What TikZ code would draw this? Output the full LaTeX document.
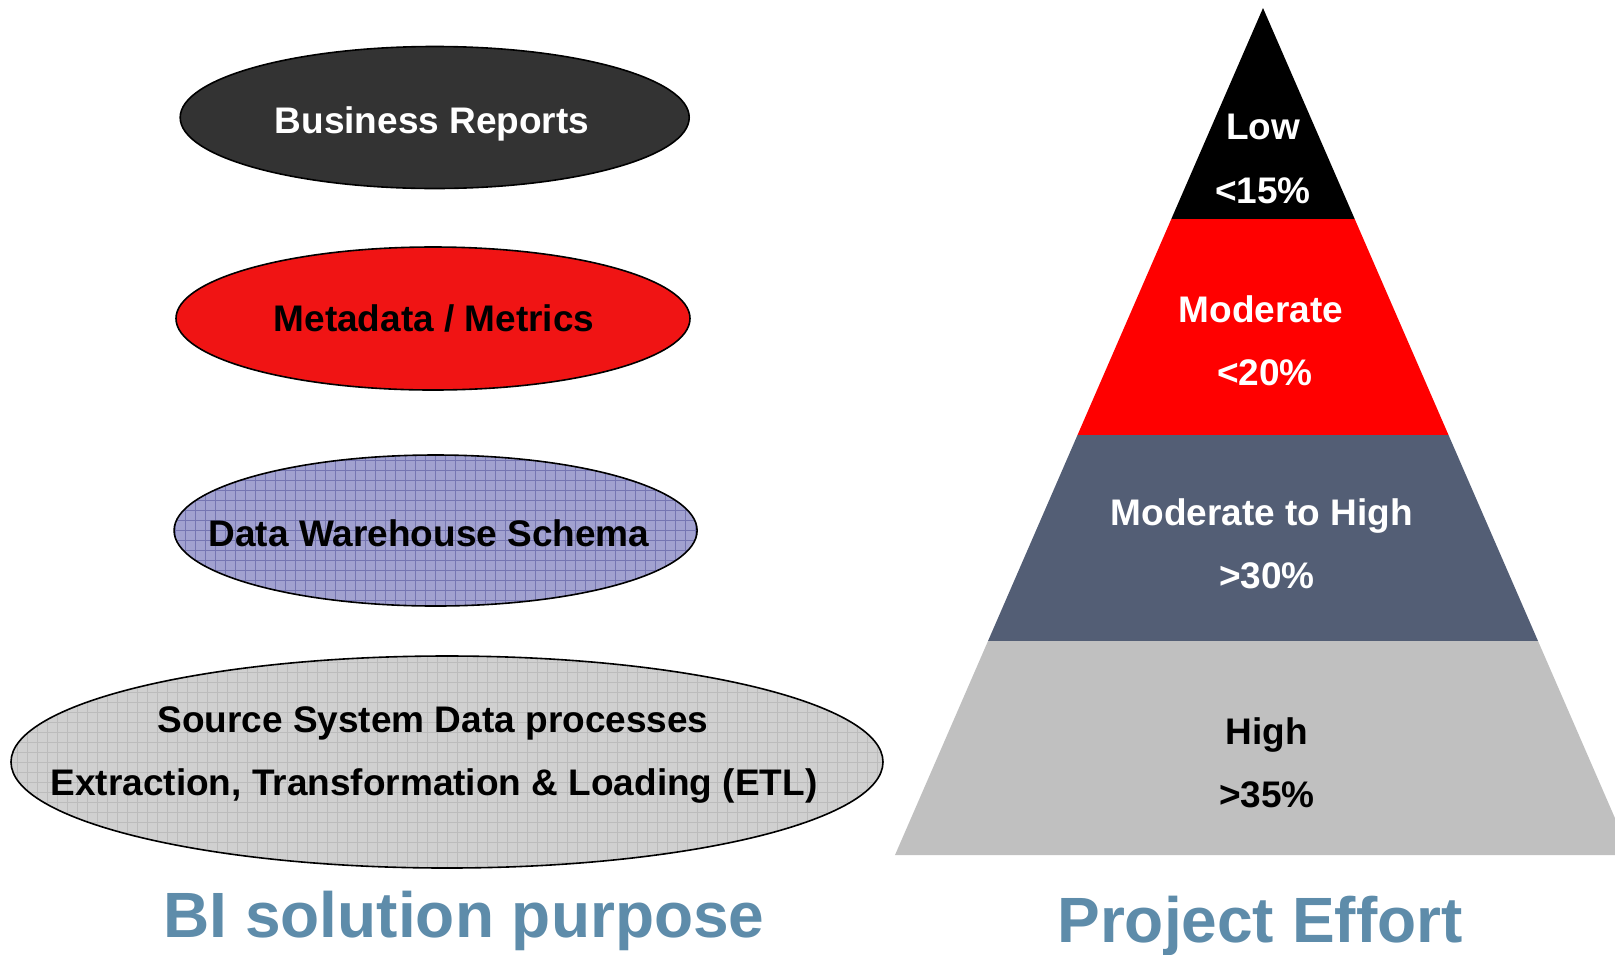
\documentclass[tikz,border=0pt]{standalone}
\usepackage{fontspec}
\setmainfont{Liberation Sans}
\usetikzlibrary{shapes.geometric}
\definecolor{darkell}{RGB}{51,51,51}
\definecolor{redell}{RGB}{240,20,20}
\definecolor{dwell}{RGB}{162,162,208}
\definecolor{dwgrid}{RGB}{118,118,178}
\definecolor{srcell}{RGB}{208,208,208}
\definecolor{srcgrid}{RGB}{188,188,188}
\definecolor{slate}{RGB}{83,94,117}
\definecolor{lightband}{RGB}{192,192,192}
\definecolor{titleblue}{RGB}{94,140,170}
\begin{document}
\begin{tikzpicture}[x=0.5pt,y=-0.5pt,
  ell/.style={ellipse, draw=black, line width=0.8pt, inner sep=0pt},
  lbl/.style={font=\fontsize{18.5}{22}\bfseries\selectfont, inner sep=0pt, anchor=base},
  ttl/.style={font=\fontsize{32}{38}\bfseries\selectfont, inner sep=0pt, anchor=base, text=titleblue},
  gridfill/.style={path picture={\draw[#1, line width=0.45pt, step=5pt] (path picture bounding box.south west) grid (path picture bounding box.north east);}}
]
\useasboundingbox (0,0) rectangle (1615,954);
\clip (0,0) rectangle (1615,954);
% ellipses
\node[ell, fill=darkell, minimum width=254.5pt, minimum height=71pt] (e1) at (434.7,117.5) {};
\node[ell, fill=redell, minimum width=257pt, minimum height=71.5pt] (e2) at (433,318.5) {};
\node[ell, fill=dwell, gridfill=dwgrid, minimum width=261.5pt, minimum height=75.5pt] (e3) at (435.6,530.5) {};
\node[ell, fill=srcell, gridfill=srcgrid, minimum width=436pt, minimum height=106pt] (e4) at (447,762) {};
\node[lbl, text=white] (t1) at (432,133) {Business Reports};
\node[lbl, text=black] (t2) at (434,331) {Metadata / Metrics};
\node[lbl, text=black] (t3) at (429,546) {Data Warehouse Schema};
\node[lbl, text=black] (t4a) at (433,732) {Source System Data processes};
\node[lbl, text=black] (t4b) at (434,795) {Extraction, Transformation \& Loading (ETL)};
% pyramid
\fill[black] (1263,8) -- (1354.7,219) -- (1171.3,219) -- cycle;
\fill[red] (1171.3,219) -- (1354.7,219) -- (1448.5,435) -- (1077.5,435) -- cycle;
\fill[slate] (1077.5,435) -- (1448.5,435) -- (1538,641) -- (988,641) -- cycle;
\fill[lightband] (988,641) -- (1538,641) -- (1631,855) -- (895,855) -- cycle;
\node[lbl, text=white] (p1a) at (1263,139) {Low};
\node[lbl, text=white] (p1b) at (1263,203) {<15\%};
\node[lbl, text=white] (p2a) at (1261,322) {Moderate};
\node[lbl, text=white] (p2b) at (1265,385) {<20\%};
\node[lbl, text=white] (p3a) at (1262,525) {Moderate to High};
\node[lbl, text=white] (p3b) at (1267,588) {>30\%};
\node[lbl, text=black] (p4a) at (1267,744) {High};
\node[lbl, text=black] (p4b) at (1267,807) {>35\%};
% titles
\node[ttl] (ta) at (464,937) {BI solution purpose};
\node[ttl] (tb) at (1260,942) {Project Effort};
\end{tikzpicture}
\end{document}
